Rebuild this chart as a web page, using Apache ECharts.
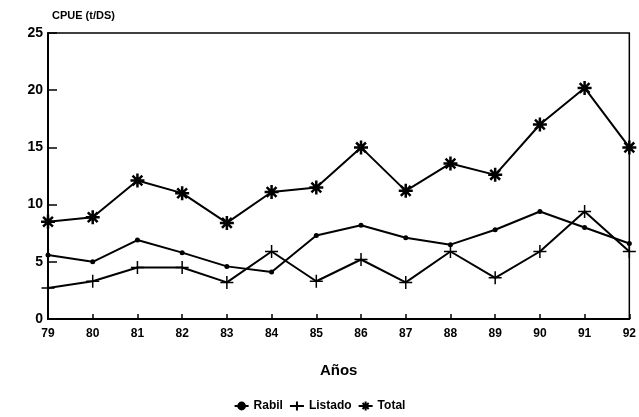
<!DOCTYPE html>
<html>
<head>
<meta charset="utf-8">
<script src="https://cdn.jsdelivr.net/npm/echarts@6/dist/echarts.min.js"></script>
<style>
  html, body { margin: 0; padding: 0; background: #fff; }
  #chart { width: 639px; height: 417px; }
</style>
</head>
<body>
<div id="chart"></div>
<script>
const years = ['79', '80', '81', '82', '83', '84', '85', '86', '87', '88', '89', '90', '91', '92'];
const rabil = [5.6, 5.0, 6.9, 5.8, 4.6, 4.1, 7.3, 8.2, 7.1, 6.5, 7.8, 9.4, 8.0, 6.6];
const listado = [2.7, 3.3, 4.5, 4.5, 3.2, 5.9, 3.3, 5.2, 3.2, 5.9, 3.6, 5.9, 9.4, 5.9];
const total = [8.5, 8.9, 12.1, 11.0, 8.4, 11.1, 11.5, 15.0, 11.2, 13.6, 12.6, 17.0, 20.2, 15.0];
const yTicks = [0, 5, 10, 15, 20, 25];

const plusPath = 'path://M0,-10L0,10M-10,0L10,0';
const starPath = 'path://M0,-10L0,10M-10,0L10,0M-7,-7L7,7M-7,7L7,-7';

const font = 'Liberation Sans';

const getOption = () => {
  return {
    animation: false,
    grid: {
      left: 48, right: 7, top: 33, bottom: 98,
      show: true, borderColor: '#000', borderWidth: 1.5
    },
    legend: {
      bottom: 0,
      left: 'center',
      itemGap: 6,
      itemWidth: 14,
      itemHeight: 11,
      textStyle: { fontFamily: font, fontWeight: 'bold', fontSize: 12, color: '#000' },
      data: ['Rabil', 'Listado', 'Total']
    },
    xAxis: {
      type: 'category',
      data: years,
      boundaryGap: false,
      name: 'Años',
      nameLocation: 'middle',
      nameGap: 44,
      nameTextStyle: { fontFamily: font, fontWeight: 'bold', fontSize: 15, color: '#000' },
      axisLine: { lineStyle: { color: '#000', width: 2 } },
      axisTick: { inside: true, length: 5, lineStyle: { color: '#000', width: 1.5 } },
      axisLabel: { fontFamily: font, fontWeight: 'bold', fontSize: 12, color: '#000', margin: 9 },
      splitLine: { show: false }
    },
    yAxis: {
      type: 'value',
      min: yTicks[0],
      max: yTicks[yTicks.length - 1],
      interval: 5,
      name: 'CPUE (t/DS)',
      nameLocation: 'end',
      nameGap: 12,
      nameTextStyle: { fontFamily: font, fontWeight: 'bold', fontSize: 11, color: '#000', align: 'left', padding: [0, 0, 0, 4] },
      axisLine: { show: true, lineStyle: { color: '#000', width: 2 } },
      axisTick: { show: true, inside: true, length: 9, lineStyle: { color: '#000', width: 1.5 } },
      axisLabel: { fontFamily: font, fontWeight: 'bold', fontSize: 14, color: '#000', margin: 5 },
      splitLine: { show: false }
    },
    series: [
      {
        name: 'Rabil',
        type: 'line',
        data: rabil,
        symbol: 'circle',
        symbolSize: 5,
        lineStyle: { color: '#000', width: 2 },
        itemStyle: { color: '#000' }
      },
      {
        name: 'Listado',
        type: 'line',
        data: listado,
        symbol: plusPath,
        symbolSize: 13,
        lineStyle: { color: '#000', width: 2 },
        itemStyle: { color: '#000', borderColor: '#000', borderWidth: 1.5 }
      },
      {
        name: 'Total',
        type: 'line',
        data: total,
        symbol: starPath,
        symbolSize: 14,
        lineStyle: { color: '#000', width: 2 },
        itemStyle: { color: '#000', borderColor: '#000', borderWidth: 2.5 }
      }
    ]
  };
};

window.addEventListener('load', () => {
  const chart = echarts.init(document.getElementById('chart'));
  chart.setOption(getOption());
});
</script>
</body>
</html>
